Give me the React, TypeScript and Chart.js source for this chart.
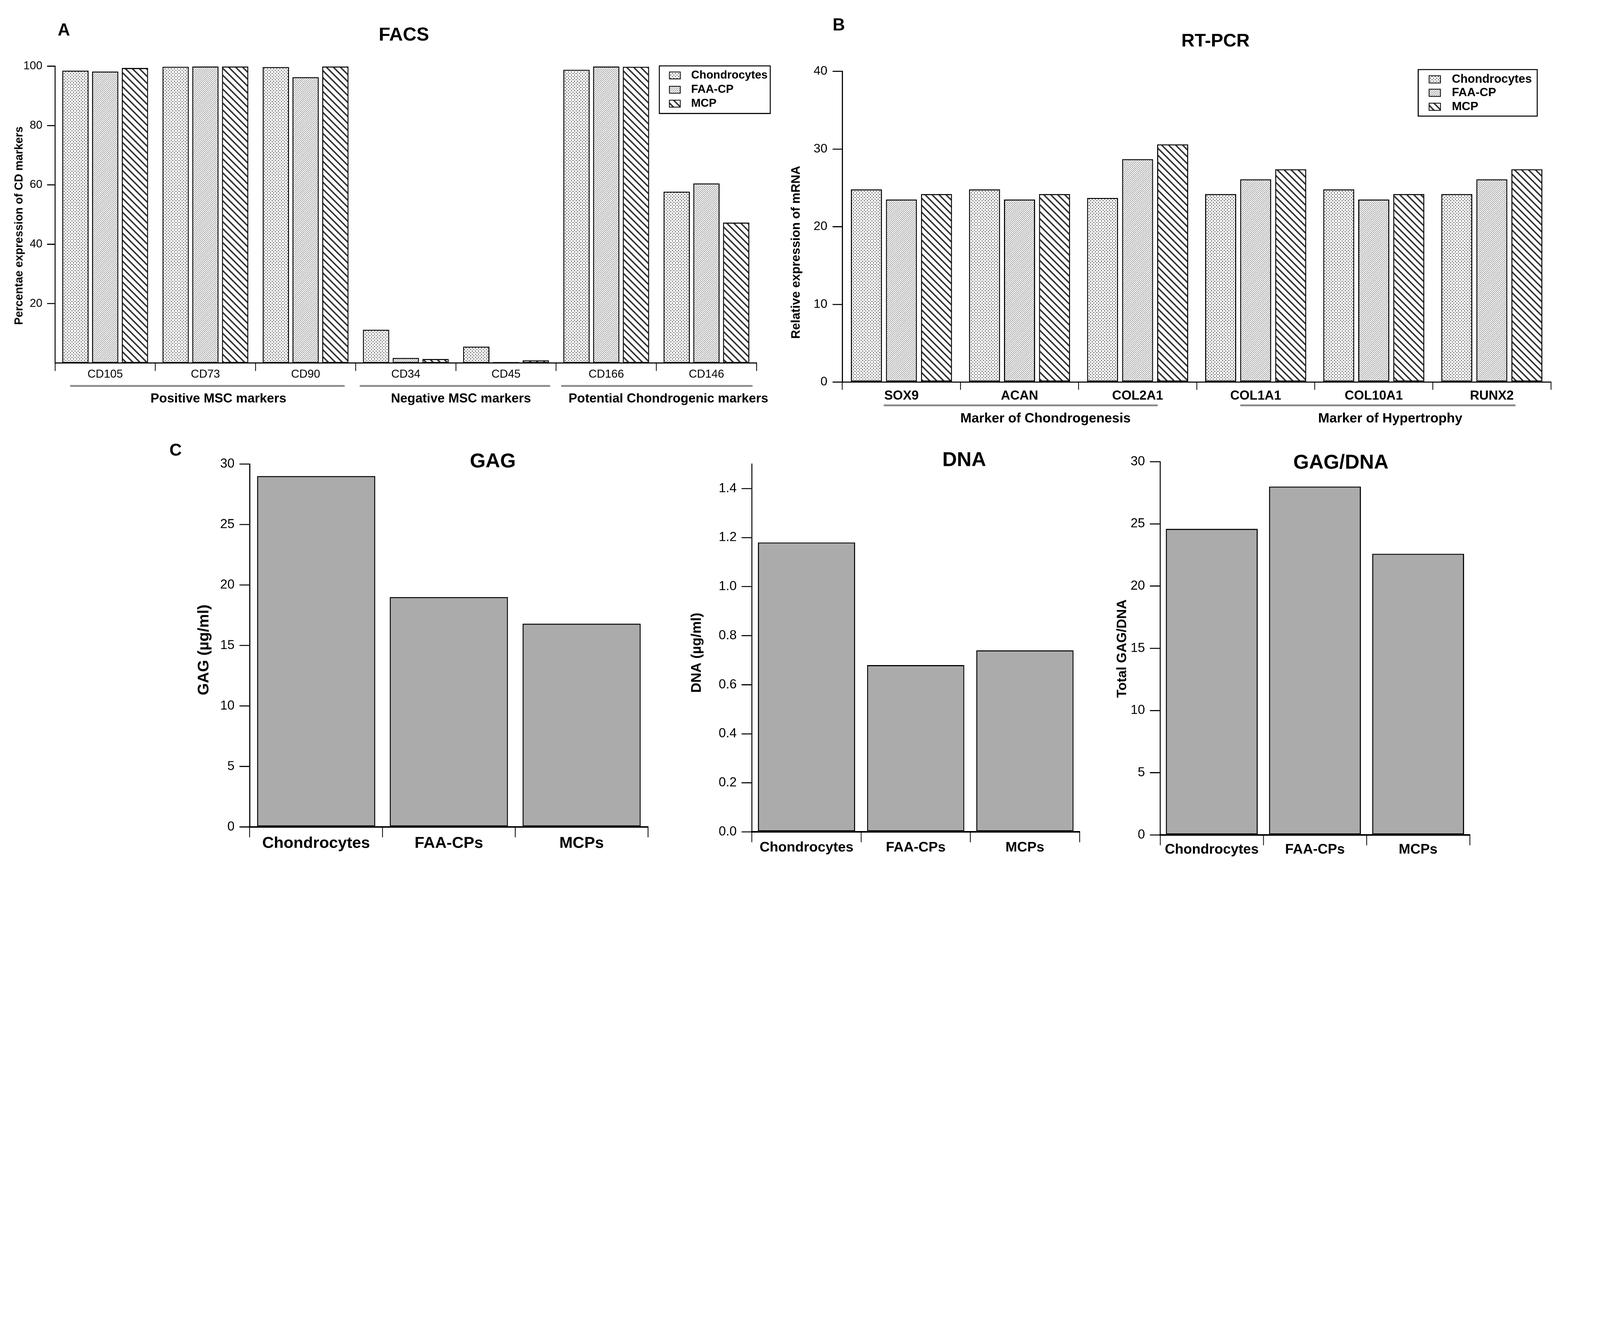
import { useEffect, useRef } from "react";
import { Chart, registerables } from "chart.js";

Chart.register(...registerables);

const FONT = '"Liberation Sans", Arial, Helvetica, sans-serif';

// ---------- data ----------
const SERIES_LABELS = ["Chondrocytes", "FAA-CP", "MCP"];

// A: FACS
const FACS_MARKERS = ["CD105", "CD73", "CD90", "CD34", "CD45", "CD166", "CD146"];
const FACS_CHONDROCYTES = [98.5, 99.8, 99.7, 11.2, 5.5, 98.8, 57.7];
const FACS_FAA_CP = [98.2, 99.9, 96.3, 1.7, 0.3, 99.9, 60.5];
const FACS_MCP = [99.4, 99.9, 99.9, 1.3, 0.9, 99.8, 47.3];
const FACS_GROUPS = [
  { label: "Positive MSC markers", from: 0, to: 2 },
  { label: "Negative MSC markers", from: 3, to: 4 },
  { label: "Potential Chondrogenic markers", from: 5, to: 6 },
];
const FACS_TICKS = [20, 40, 60, 80, 100];

// B: RT-PCR
const PCR_GENES = ["SOX9", "ACAN", "COL2A1", "COL1A1", "COL10A1", "RUNX2"];
const PCR_CHONDROCYTES = [24.8, 24.8, 23.7, 24.2, 24.8, 24.2];
const PCR_FAA_CP = [23.5, 23.5, 28.7, 26.1, 23.5, 26.1];
const PCR_MCP = [24.2, 24.2, 30.6, 27.4, 24.2, 27.4];
const PCR_GROUPS = [
  { label: "Marker of Chondrogenesis", from: 0, to: 2 },
  { label: "Marker of Hypertrophy", from: 3, to: 5 },
];
const PCR_TICKS = [0, 10, 20, 30, 40];

// C: GAG, DNA, GAG/DNA
const CELL_TYPES = ["Chondrocytes", "FAA-CPs", "MCPs"];
const GAG_VALUES = [29.0, 19.0, 16.8];
const DNA_VALUES = [1.18, 0.68, 0.74];
const GAG_DNA_VALUES = [24.6, 28.0, 22.6];
const GAG_TICKS = [0, 5, 10, 15, 20, 25, 30];
const DNA_TICKS = [0, 0.2, 0.4, 0.6, 0.8, 1.0, 1.2, 1.4];
const GAG_DNA_TICKS = [0, 5, 10, 15, 20, 25, 30];

// ---------- layout (design pixels of the 6188x3421 figure) ----------
const DESIGN_W = 6188;
const DESIGN_H = 3421;

type Frame = { x0: number; y0: number; w: number; h: number; left: number; top: number; right: number; bottom: number };

const FRAME_A: Frame = { x0: 0, y0: 0, w: 3010, h: 1650, left: 213, top: 256, right: 2926, bottom: 1404 };
const FRAME_B: Frame = { x0: 3010, y0: 0, w: 3178, h: 1700, left: 3258, top: 276, right: 5998, bottom: 1478 };
const FRAME_GAG: Frame = { x0: 700, y0: 1700, w: 1900, h: 1721, left: 966, top: 1795, right: 2506, bottom: 3199 };
const FRAME_DNA: Frame = { x0: 2600, y0: 1700, w: 1650, h: 1721, left: 2908, top: 1795, right: 4175, bottom: 3218 };
const FRAME_RATIO: Frame = { x0: 4250, y0: 1700, w: 1650, h: 1721, left: 4487, top: 1786, right: 5684, bottom: 3230 };

// ---------- fills ----------
function tilePattern(ctx: CanvasRenderingContext2D, size: number, color: string, hit: (x: number, y: number) => boolean) {
  const tile = document.createElement("canvas");
  tile.width = size;
  tile.height = size;
  const t = tile.getContext("2d")!;
  t.fillStyle = "#fff";
  t.fillRect(0, 0, size, size);
  t.fillStyle = color;
  for (let y = 0; y < size; y++) {
    for (let x = 0; x < size; x++) if (hit(x, y)) t.fillRect(x, y, 1, 1);
  }
  return ctx.createPattern(tile, "repeat")!;
}

const seriesFills = (ctx: CanvasRenderingContext2D) => [
  // sparse dots
  tilePattern(ctx, 12, "#000", (x, y) => (x >= 1 && x <= 3 && y >= 1 && y <= 3) || (x >= 7 && x <= 9 && y >= 7 && y <= 9)),
  // fine "/" hatch
  tilePattern(ctx, 8, "#222", (x, y) => (x + y) % 8 === 0 || ((x + y) % 8 === 1 && x % 2 === 0)),
  // bold "\" hatch
  tilePattern(ctx, 27, "#333", (x, y) => (x - y + 27) % 27 < 8),
];

// ---------- plugins ----------
function textPlugin(f: Frame, text: string, cx: number, cy: number, size: number, vertical = false) {
  return {
    id: vertical ? "yTitle" : "panelTitle",
    afterDraw(chart: Chart) {
      const ctx = chart.ctx;
      ctx.save();
      ctx.translate(cx - f.x0, cy - f.y0);
      if (vertical) ctx.rotate(-Math.PI / 2);
      ctx.font = `bold ${size}px ${FONT}`;
      ctx.fillStyle = "#000";
      ctx.textAlign = "center";
      ctx.textBaseline = "middle";
      ctx.fillText(text, 0, 0);
      ctx.restore();
    },
  };
}

type LegendBox = { x: number; y: number; w: number; h: number; rows: number[]; swatchX: number; swatchW: number; swatchH: number; textX: number; size: number };

function legendPlugin(f: Frame, b: LegendBox) {
  return {
    id: "boxLegend",
    afterDraw(chart: Chart) {
      const ctx = chart.ctx;
      const x = b.x - f.x0;
      const y = b.y - f.y0;
      ctx.save();
      ctx.fillStyle = "#fff";
      ctx.fillRect(x, y, b.w, b.h);
      ctx.lineWidth = 4;
      ctx.strokeStyle = "#000";
      ctx.strokeRect(x, y, b.w, b.h);
      ctx.font = `bold ${b.size}px ${FONT}`;
      ctx.textAlign = "left";
      ctx.textBaseline = "middle";
      chart.data.datasets.forEach((ds: any, i: number) => {
        const ry = y + b.rows[i];
        const sx = x + b.swatchX;
        ctx.fillStyle = ds.backgroundColor;
        ctx.fillRect(sx, ry - b.swatchH / 2, b.swatchW, b.swatchH);
        ctx.lineWidth = 3;
        ctx.strokeRect(sx, ry - b.swatchH / 2, b.swatchW, b.swatchH);
        ctx.fillStyle = "#000";
        ctx.fillText(ds.label, x + b.textX, ry);
      });
      ctx.restore();
    },
  };
}

type Group = { label: string; from: number; to: number };

// insets: [left inset, right inset, label shift] in category widths
function groupPlugin(f: Frame, groups: Group[], insets: number[][], lineY: number, labelY: number, size: number) {
  return {
    id: "groupAxis",
    afterDraw(chart: Chart) {
      const ctx = chart.ctx;
      const xs = chart.scales.x;
      const w = xs.width / (chart.data.labels as string[]).length;
      ctx.save();
      ctx.strokeStyle = "#888";
      ctx.lineWidth = 7;
      ctx.font = `bold ${size}px ${FONT}`;
      ctx.fillStyle = "#000";
      ctx.textAlign = "center";
      ctx.textBaseline = "middle";
      groups.forEach((g, i) => {
        const [inL, inR, shift] = insets[i];
        ctx.beginPath();
        ctx.moveTo(xs.left + (g.from + inL) * w, lineY - f.y0);
        ctx.lineTo(xs.left + (g.to + 1 - inR) * w, lineY - f.y0);
        ctx.stroke();
        ctx.fillText(g.label, xs.left + ((g.from + g.to + 1) / 2 + shift) * w, labelY - f.y0);
      });
      ctx.restore();
    },
  };
}

// ---------- shared options ----------
function baseOptions(f: Frame) {
  return {
    responsive: false,
    animation: false,
    devicePixelRatio: 1,
    events: [],
    layout: { padding: { left: 0, top: f.top - f.y0, right: f.x0 + f.w - f.right, bottom: 0 } },
    plugins: { legend: { display: false }, tooltip: { enabled: false } },
  };
}

type YOpts = {
  max: number;
  ticks: number[];
  tickSize: number;
  tickLength: number;
  tickPad: number;
  fmt?: (v: number) => string;
};

function yAxis(f: Frame, o: YOpts) {
  const fmt = o.fmt ?? ((v: number) => String(v));
  return {
    min: 0,
    max: o.max,
    afterFit: (s: any) => {
      s.width = f.left - f.x0;
    },
    afterBuildTicks: (s: any) => {
      s.ticks = o.ticks.map((v) => ({ value: v }));
    },
    ticks: {
      color: "#000",
      padding: o.tickPad,
      font: { family: FONT, size: o.tickSize, lineHeight: 1 },
      callback: (v: any) => fmt(Number(v)),
    },
    grid: { drawOnChartArea: false, tickLength: o.tickLength, tickWidth: 4, lineWidth: 4, tickColor: "#000" },
    border: { display: true, color: "#000", width: 4, z: 1 },
  };
}

type XOpts = { size: number; bold: boolean; tickLength: number; borderWidth: number; pad: number };

function xAxis(f: Frame, o: XOpts) {
  return {
    afterFit: (s: any) => {
      s.height = f.y0 + f.h - f.bottom;
    },
    ticks: {
      color: "#000",
      padding: o.pad,
      maxRotation: 0,
      autoSkip: false,
      font: { family: FONT, size: o.size, weight: o.bold ? "bold" : "normal", lineHeight: 1 },
    },
    grid: { offset: true, drawOnChartArea: false, tickLength: o.tickLength, tickWidth: 3, lineWidth: 3, tickColor: "#000" },
    border: { display: true, color: "#000", width: o.borderWidth, z: 1 },
  };
}

const PATTERN_BAR = {
  borderColor: "#000",
  borderWidth: 4,
  borderSkipped: false,
  categoryPercentage: 0.89,
  barPercentage: 0.885,
  clip: false,
};

const GREY_BAR = {
  backgroundColor: "#ababab",
  borderColor: "#000",
  borderWidth: 4,
  borderSkipped: false,
  categoryPercentage: 0.89,
  barPercentage: 1,
  clip: false,
};

// ---------- chart builders ----------
function buildFacs(ctx: CanvasRenderingContext2D): any {
  const f = FRAME_A;
  const fills = seriesFills(ctx);
  const values = [FACS_CHONDROCYTES, FACS_FAA_CP, FACS_MCP];
  return {
    type: "bar",
    data: {
      labels: FACS_MARKERS,
      datasets: SERIES_LABELS.map((label, i) => ({ label, data: values[i], backgroundColor: fills[i], ...PATTERN_BAR })),
    },
    options: {
      ...baseOptions(f),
      scales: {
        x: xAxis(f, { size: 44, bold: false, tickLength: 31, borderWidth: 4, pad: -8 }),
        y: yAxis(f, { max: 100, ticks: FACS_TICKS, tickSize: 44, tickLength: 31, tickPad: 18 }),
      },
    },
    plugins: [
      textPlugin(f, "FACS", 1562, 137, 73),
      textPlugin(f, "Percentae expression of CD markers", 75, 873, 44, true),
      legendPlugin(f, { x: 2550, y: 255, w: 429, h: 184, rows: [37, 92, 146], swatchX: 39, swatchW: 42, swatchH: 27, textX: 123, size: 44 }),
      groupPlugin(f, FACS_GROUPS, [[0.15, 0.11, 0.13], [0.04, 0.06, 0.05], [0.05, 0.04, 0.12]], 1493, 1543, 50),
    ],
  };
}

function buildPcr(ctx: CanvasRenderingContext2D): any {
  const f = FRAME_B;
  const fills = seriesFills(ctx);
  const values = [PCR_CHONDROCYTES, PCR_FAA_CP, PCR_MCP];
  return {
    type: "bar",
    data: {
      labels: PCR_GENES,
      datasets: SERIES_LABELS.map((label, i) => ({ label, data: values[i], backgroundColor: fills[i], ...PATTERN_BAR })),
    },
    options: {
      ...baseOptions(f),
      scales: {
        x: xAxis(f, { size: 50, bold: true, tickLength: 30, borderWidth: 4, pad: -1 }),
        y: yAxis(f, { max: 40, ticks: PCR_TICKS, tickSize: 48, tickLength: 38, tickPad: 20 }),
      },
    },
    plugins: [
      textPlugin(f, "RT-PCR", 4701, 160, 71),
      textPlugin(f, "Relative expression of mRNA", 3080, 976, 48, true),
      legendPlugin(f, { x: 5485, y: 269, w: 460, h: 180, rows: [38, 90, 144], swatchX: 42, swatchW: 44, swatchH: 28, textX: 130, size: 46 }),
      groupPlugin(f, PCR_GROUPS, [[0.35, 0.33, 0.22], [0.37, 0.3, 0.14]], 1568, 1620, 52),
    ],
  };
}

type SingleOpts = {
  frame: Frame;
  title: string;
  titleX: number;
  titleY: number;
  values: number[];
  max: number;
  ticks: number[];
  yTitle: string;
  yTitleX: number;
  yTitleY: number;
  yTitleSize: number;
  labelSize: number;
  labelPad: number;
  fmt?: (v: number) => string;
};

function buildSingle(o: SingleOpts): any {
  const f = o.frame;
  return {
    type: "bar",
    data: { labels: CELL_TYPES, datasets: [{ label: o.title, data: o.values, ...GREY_BAR }] },
    options: {
      ...baseOptions(f),
      scales: {
        x: xAxis(f, { size: o.labelSize, bold: true, tickLength: 40, borderWidth: 6, pad: o.labelPad }),
        y: yAxis(f, { max: o.max, ticks: o.ticks, tickSize: 50, tickLength: 40, tickPad: 19, fmt: o.fmt }),
      },
    },
    plugins: [
      textPlugin(f, o.title, o.titleX, o.titleY, 78),
      textPlugin(f, o.yTitle, o.yTitleX, o.yTitleY, o.yTitleSize, true),
    ],
  };
}

const buildGag = () =>
  buildSingle({
    frame: FRAME_GAG, title: "GAG", titleX: 1906, titleY: 1786, values: GAG_VALUES, max: 30, ticks: GAG_TICKS,
    yTitle: "GAG (µg/ml)", yTitleX: 789, yTitleY: 2514, yTitleSize: 60, labelSize: 62, labelPad: -7,
  });
const buildDna = () =>
  buildSingle({
    frame: FRAME_DNA, title: "DNA", titleX: 3729, titleY: 1781, values: DNA_VALUES, max: 1.5, ticks: DNA_TICKS,
    yTitle: "DNA (µg/ml)", yTitleX: 2695, yTitleY: 2525, yTitleSize: 54, labelSize: 54, labelPad: -6,
    fmt: (v) => v.toFixed(1),
  });
const buildRatio = () =>
  buildSingle({
    frame: FRAME_RATIO, title: "GAG/DNA", titleX: 5186, titleY: 1791, values: GAG_DNA_VALUES, max: 30, ticks: GAG_DNA_TICKS,
    yTitle: "Total GAG/DNA", yTitleX: 4341, yTitleY: 2509, yTitleSize: 52, labelSize: 54, labelPad: -10,
  });

// ---------- components ----------
function ChartCanvas({ frame, build }: { frame: Frame; build: (ctx: CanvasRenderingContext2D) => any }) {
  const ref = useRef<HTMLCanvasElement>(null);
  useEffect(() => {
    if (!ref.current) return;
    const ctx = ref.current.getContext("2d")!;
    const chart = new Chart(ref.current, build(ctx));
    return () => chart.destroy();
  }, [frame, build]);
  return (
    <canvas
      ref={ref}
      width={frame.w}
      height={frame.h}
      style={{ position: "absolute", left: frame.x0, top: frame.y0, width: frame.w, height: frame.h }}
    />
  );
}

function PanelLetter({ text, x, y }: { text: string; x: number; y: number }) {
  return (
    <div
      style={{
        position: "absolute",
        left: x,
        top: y,
        transform: "translate(-50%, -50%)",
        font: `bold 66px ${FONT}`,
        lineHeight: 1,
        color: "#000",
        zIndex: 2,
      }}
    >
      {text}
    </div>
  );
}

// the figure is laid out in design pixels and scaled to the CSS width the page gets
function pageScale() {
  const w = window.innerWidth || DESIGN_W;
  return Math.min(1, w / DESIGN_W);
}

export default function App() {
  const s = pageScale();
  return (
    <div
      style={{ position: "absolute", left: 0, top: 0, width: DESIGN_W * s, height: DESIGN_H * s, overflow: "hidden", background: "#fff" }}
    >
      <div
        style={{ position: "absolute", left: 0, top: 0, width: DESIGN_W, height: DESIGN_H, transform: `scale(${s})`, transformOrigin: "0 0" }}
      >
        <ChartCanvas frame={FRAME_A} build={buildFacs} />
        <ChartCanvas frame={FRAME_B} build={buildPcr} />
        <ChartCanvas frame={FRAME_GAG} build={buildGag} />
        <ChartCanvas frame={FRAME_DNA} build={buildDna} />
        <ChartCanvas frame={FRAME_RATIO} build={buildRatio} />
        <PanelLetter text="A" x={247} y={114} />
        <PanelLetter text="B" x={3244} y={95} />
        <PanelLetter text="C" x={679} y={1740} />
      </div>
    </div>
  );
}
